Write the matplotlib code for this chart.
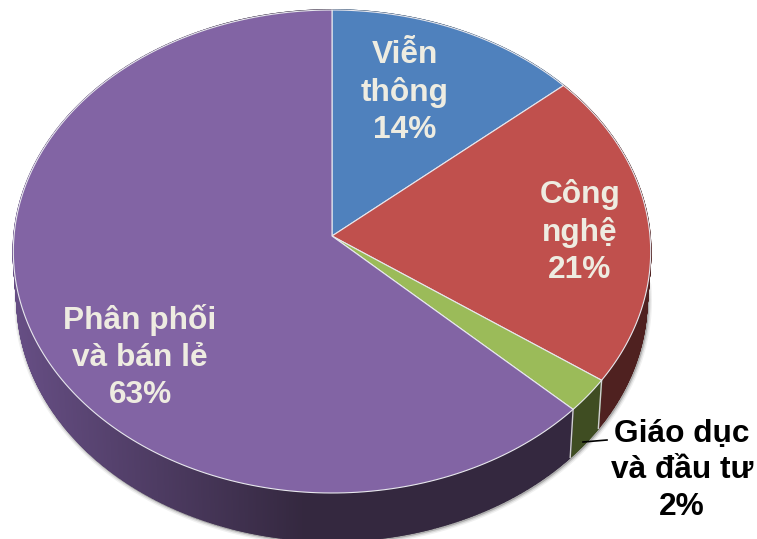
import numpy as np
import matplotlib
matplotlib.use('Agg')
from matplotlib import pyplot as plt
from matplotlib.colors import to_rgb

names = ['Viễn\nthông', 'Công\nnghệ', 'Giáo dục\nvà đầu tư', 'Phân phối\nvà bán lẻ']
# unrounded shares read from the slice edges, the labels show them rounded
shares = [13.7, 21.1, 2.3, 62.9]
top_colors = ['#4f81bd', '#c0504d', '#9bbb59', '#8264a4']
wall_colors = ['#2f4d70', '#4f2120', '#3f4d22', '#33284a']
text_colors = ['#eeece1', '#eeece1', 'black', '#eeece1']
label_xy = [(405, 92.5), (580, 232), (682, 470.5), (140, 357)]

# pie geometry in pixels, the near side looks bigger because of the perspective
cx, cy = 332, 236
rx, ry = 318, 240.5
persp = 0.0642
depth = 48
wall_shrink = 0.988


def project(theta, r=1.0):
    # theta runs clockwise from 12 o'clock
    x = r * np.sin(theta)
    y = r * np.cos(theta)
    d = 1 + persp * y
    return cx + rx * x / d, cy - ry * y / d


def wall_rim(theta):
    x, y = project(theta)
    return cx + (x - cx) * wall_shrink, y + depth


def purple_wall(x):
    # side of the big slice fades from left to right
    left = np.array(to_rgb('#664e84'))
    right = np.array(to_rgb('#34283f'))
    t = np.clip((x - 14) / 290, 0, 1)
    return tuple(left + (right - left) * t)


fig = plt.figure(figsize=(7.57, 5.39), dpi=100)
ax = fig.add_axes([0, 0, 1, 1])
ax.set_xlim(0, 757)
ax.set_ylim(539, 0)
ax.axis('off')

edges = 2 * np.pi * np.cumsum([0] + shares) / sum(shares)

# soft shadow below the wall
t = np.linspace(np.pi * 0.5, np.pi * 1.5, 300)
sx, sy = wall_rim(t)
for w, a in [(6, 0.06), (4, 0.1), (2, 0.2)]:
    ax.plot(sx + 1, sy + 1, color='black', lw=w, alpha=a, zorder=1, solid_capstyle='round')

# walls
for i in range(len(shares)):
    t = np.linspace(edges[i], edges[i + 1], max(int(shares[i] * 12), 4) + 1)
    for a, b in zip(t[:-1], t[1:]):
        x1, y1 = project(np.array([a, b]))
        x2, y2 = wall_rim(np.array([b, a]))
        if i == 3:
            c = purple_wall((x1[0] + x1[1]) / 2)
        else:
            c = wall_colors[i]
        ax.fill(np.r_[x1, x2], np.r_[y1, y2], color=c, lw=1.2, zorder=2)

# light line where the slices meet on the wall
for e in edges[1:4]:
    x1, y1 = project(e)
    x2, y2 = wall_rim(e)
    ax.plot([x1, x2], [y1, y2], color='#d0d0d0', lw=1, zorder=3)

# top faces
for i in range(len(shares)):
    t = np.linspace(edges[i], edges[i + 1], 200)
    x, y = project(t)
    ax.fill(np.r_[cx, x], np.r_[cy, y], facecolor=top_colors[i], edgecolor='#e8e8ee',
            lw=0.8, zorder=4, joinstyle='round')

ax.plot([583, 607], [442, 440], color='black', lw=1.2, zorder=5)

for name, share, color, (lx, ly) in zip(names, shares, text_colors, label_xy):
    ax.text(lx, ly, f'{name}\n{round(share)}%', color=color, ha='center', va='center',
            family='Liberation Sans', fontweight='bold', fontsize=22.8, linespacing=1.29, zorder=6)

fig.savefig('out.png', dpi=100, facecolor='white')
